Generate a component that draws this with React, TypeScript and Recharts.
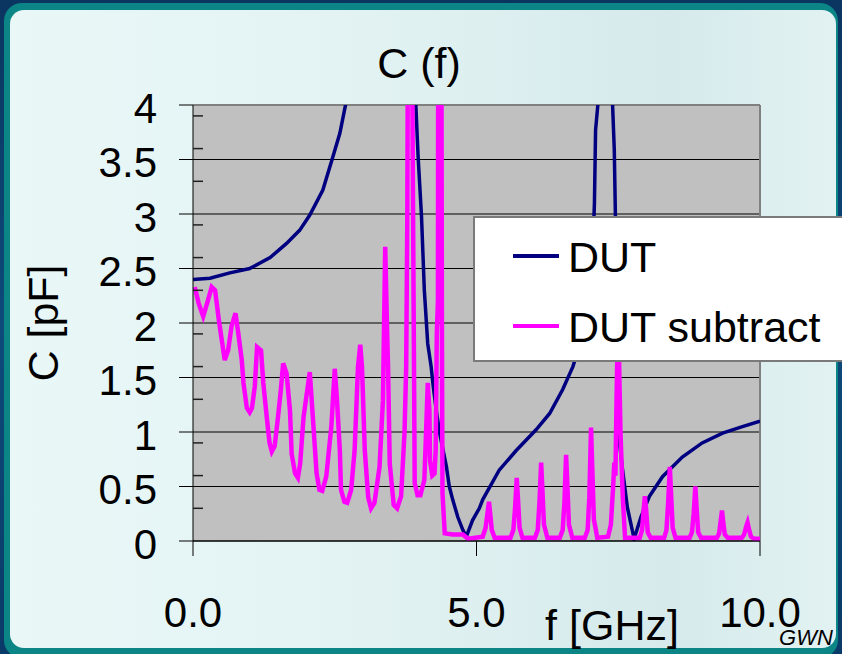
import { LineChart, Line, XAxis, YAxis, CartesianGrid, ReferenceLine, Legend } from "recharts";

const FONT = '"Liberation Sans", Arial, sans-serif';
const NAVY = "#000080";
const MAGENTA = "#FF00FF";

// DUT, f in GHz, C in pF (values above 4 run off the top of the plot)
const dutFreq = [
  0, 0.3, 0.65, 1.0, 1.36, 1.65, 1.88, 2.06, 2.29, 2.47, 2.59, 2.69, 2.8, 3.0, 3.4, 3.7, 3.85, 3.93,
  3.97, 4.03, 4.08, 4.14, 4.2, 4.23, 4.29, 4.35, 4.47, 4.52, 4.58, 4.67, 4.76, 4.82, 4.93, 5.05, 5.11,
  5.4, 5.7, 6.05, 6.29, 6.52, 6.7, 6.85, 6.95, 7.02, 7.06, 7.08, 7.1, 7.14, 7.2, 7.3, 7.38, 7.4, 7.43,
  7.45, 7.47, 7.49, 7.57, 7.66, 7.78, 7.9, 8.05, 8.28, 8.63, 8.98, 9.34, 9.69, 10.0,
];
const dutCap = [
  2.4, 2.41, 2.46, 2.5, 2.6, 2.73, 2.85, 2.99, 3.22, 3.53, 3.74, 4.0, 4.8, 6.5, 12, 9, 6, 4.0,
  3.53, 2.98, 2.3, 1.81, 1.6, 1.45, 1.2, 0.99, 0.68, 0.5, 0.38, 0.22, 0.1, 0.04, 0.19, 0.3, 0.38,
  0.65, 0.83, 1.02, 1.17, 1.39, 1.6, 1.85, 2.1, 2.45, 2.8, 3.1, 3.77, 4.0, 6, 8, 5, 4.0, 3.59,
  2.98, 2.0, 1.05, 0.68, 0.31, 0.02, 0.22, 0.41, 0.59, 0.77, 0.9, 0.99, 1.05, 1.1,
];

// DUT subtract
const subFreq = [
  0.03, 0.1, 0.18, 0.26, 0.33, 0.39, 0.45, 0.5, 0.56, 0.62, 0.68, 0.75, 0.8, 0.86, 0.89, 0.95, 1.0,
  1.04, 1.09, 1.13, 1.2, 1.24, 1.3, 1.35, 1.39, 1.44, 1.5, 1.55, 1.59, 1.65, 1.71, 1.74, 1.8, 1.85,
  1.89, 1.95, 2.06, 2.09, 2.14, 2.18, 2.23, 2.28, 2.35, 2.44, 2.5, 2.54, 2.59, 2.61, 2.67, 2.72, 2.79,
  2.85, 2.91, 2.95, 2.98, 3.03, 3.09, 3.14, 3.2, 3.29, 3.35, 3.39, 3.42, 3.44, 3.47, 3.54, 3.6, 3.67,
  3.73, 3.76, 3.78, 3.81, 3.85, 3.87, 3.91, 3.96, 4.01, 4.08, 4.11, 4.14, 4.17, 4.18, 4.22, 4.26, 4.28,
  4.3, 4.32, 4.33, 4.37, 4.39, 4.4, 4.44, 4.58, 4.76, 4.85,
  5.11, 5.16, 5.2, 5.22, 5.24, 5.27, 5.32,
  5.6, 5.65, 5.68, 5.71, 5.73, 5.76, 5.81,
  6.03, 6.08, 6.11, 6.14, 6.16, 6.19, 6.25,
  6.47, 6.52, 6.55, 6.58, 6.6, 6.63, 6.69,
  6.91, 6.96, 6.99, 7.02, 7.04, 7.07, 7.13,
  7.32, 7.37, 7.41, 7.43, 7.45, 7.47, 7.5, 7.52, 7.54, 7.58, 7.62,
  7.88, 7.92, 7.95, 7.97, 7.99, 8.02, 8.07,
  8.31, 8.35, 8.38, 8.41, 8.43, 8.46, 8.51,
  8.76, 8.8, 8.83, 8.86, 8.88, 8.91, 8.96,
  9.24, 9.28, 9.31, 9.33, 9.35, 9.38, 9.43,
  9.68, 9.72, 9.76, 9.78, 9.8, 9.84, 9.9, 10.0,
];
const subCap = [
  2.33, 2.18, 2.06, 2.2, 2.33, 2.3, 2.05, 1.87, 1.66, 1.75, 1.97, 2.09, 1.9, 1.66, 1.45, 1.22, 1.18,
  1.22, 1.42, 1.78, 1.75, 1.45, 1.14, 0.9, 0.82, 0.87, 1.14, 1.39, 1.63, 1.54, 1.2, 0.8, 0.62, 0.58,
  0.71, 1.14, 1.55, 1.32, 0.93, 0.62, 0.47, 0.46, 0.59, 1.05, 1.58, 1.29, 0.83, 0.47, 0.36, 0.35, 0.47,
  0.83, 1.6, 1.8, 1.6, 0.83, 0.4, 0.3, 0.35, 0.68, 1.29, 2.7, 2.0, 1.6, 0.71, 0.33, 0.3, 0.41,
  0.99, 1.6, 3.0, 8, 8, 4.0, 0.53, 0.42, 0.42, 0.56, 0.99, 1.45, 1.2, 0.74, 0.6, 0.62, 0.83,
  1.9, 2.21, 8, 8, 2.0, 0.44, 0.07, 0.06, 0.06, 0.02,
  0.04, 0.12, 0.28, 0.36, 0.26, 0.1, 0.03,
  0.03, 0.1, 0.3, 0.58, 0.4, 0.12, 0.03,
  0.03, 0.1, 0.35, 0.72, 0.5, 0.15, 0.03,
  0.03, 0.1, 0.35, 0.79, 0.55, 0.15, 0.03,
  0.03, 0.1, 0.4, 1.04, 0.7, 0.2, 0.03,
  0.04, 0.15, 0.5, 0.72, 0.6, 1.3, 2.2, 1.5, 0.99, 0.4, 0.03,
  0.03, 0.1, 0.3, 0.41, 0.3, 0.08, 0.03,
  0.03, 0.1, 0.35, 0.68, 0.45, 0.12, 0.03,
  0.03, 0.08, 0.25, 0.5, 0.32, 0.08, 0.03,
  0.03, 0.07, 0.2, 0.28, 0.18, 0.06, 0.03,
  0.03, 0.06, 0.14, 0.17, 0.12, 0.04, 0.02, 0.02,
];

const yTicks = [0, 0.5, 1, 1.5, 2, 2.5, 3, 3.5, 4];
const yMinorTicks = [
  0.1, 0.2, 0.3, 0.4, 0.6, 0.7, 0.8, 0.9, 1.1, 1.2, 1.3, 1.4, 1.6, 1.7, 1.8, 1.9, 2.1, 2.2, 2.3, 2.4,
  2.6, 2.7, 2.8, 2.9, 3.1, 3.2, 3.3, 3.4, 3.6, 3.7, 3.8, 3.9,
];
const xTicks = [0, 5, 10];
const xTickLabels = ["0.0", "5.0", "10.0"];

const dutData = dutFreq.map((f, i) => ({ f, c: dutCap[i] }));
const subData = subFreq.map((f, i) => ({ f, c: subCap[i] }));

function XTick({ x, y, index }: any) {
  return (
    <text x={x} y={y} dy={71} textAnchor="middle" fontSize={42} fontFamily={FONT} fill="#000">
      {xTickLabels[index]}
    </text>
  );
}

function XLabel() {
  return (
    <g fontFamily={FONT} fill="#000">
      <text x={612} y={640} textAnchor="middle" fontSize={43}>f [GHz]</text>
      <text x={806} y={645} textAnchor="middle" fontSize={22} fontStyle="italic">GWN</text>
    </g>
  );
}

function YLabel() {
  return (
    <text x={58} y={323} transform="rotate(-90, 58, 323)" textAnchor="middle"
      fontSize={43} fontFamily={FONT} fill="#000">
      C [pF]
    </text>
  );
}

function LegendBox({ payload }: any) {
  return (
    <div style={{
      width: 369, height: 146, boxSizing: "border-box", background: "#fff",
      borderTop: "2px solid #7a7a7a", borderBottom: "2px solid #7a7a7a", borderLeft: "2px solid #7a7a7a",
      position: "relative", fontFamily: FONT,
    }}>
      {(payload || []).map((p: any, i: number) => (
        <div key={p.value}>
          <div style={{ position: "absolute", left: 38, top: 36 + i * 70, width: 46, height: 4, background: p.color }} />
          <div style={{ position: "absolute", left: 93, top: 15 + i * 70, fontSize: 43, lineHeight: "48px", color: "#000", whiteSpace: "nowrap" }}>
            {p.value}
          </div>
        </div>
      ))}
    </div>
  );
}

export default function App() {
  return (
    <div style={{ position: "relative", width: 842, height: 654, overflow: "hidden",
      background: "linear-gradient(180deg, #0a3560 0%, #0d4a7a 50%, #0a3a68 100%)" }}>
      <style>{"body{margin:0}"}</style>
      <div style={{ position: "absolute", left: 4, top: 3, width: 834, height: 655, borderRadius: 18, background: "#0b8585" }} />
      <div style={{ position: "absolute", left: 10, top: 10, width: 826, height: 638, borderRadius: 14,
        background: "linear-gradient(90deg, #e9f7f7 0%, #e3f3f3 40%, #d6eaeb 80%, #e2f2f2 100%)" }} />
      <svg width={842} height={100} style={{ position: "absolute", left: 0, top: 0 }}>
        <text x={419} y={78} textAnchor="middle" fontSize={43} fontFamily={FONT} fill="#000">C (f)</text>
      </svg>
      <div style={{ position: "absolute", left: 0, top: 0 }}>
        <LineChart width={842} height={654} margin={{ top: 105, right: 82, bottom: 0, left: 0 }}>
          <CartesianGrid vertical={false} stroke="#000" fill="#C0C0C0" fillOpacity={1} />
          <XAxis dataKey="f" type="number" domain={[0, 10]} ticks={xTicks} allowDataOverflow
            height={113} tickSize={15} tickMargin={0} stroke="#000" tick={<XTick />}
            label={{ content: <XLabel /> }} />
          <YAxis type="number" domain={[0, 4]} ticks={yTicks} allowDataOverflow width={193}
            tickSize={14} tickMargin={22} stroke="#000"
            tick={{ fontSize: 42, fontFamily: FONT, fill: "#000", dy: 3 }}
            label={{ content: <YLabel /> }} />
          <YAxis yAxisId="minor" type="number" domain={[0, 4]} ticks={yMinorTicks} allowDataOverflow
            mirror orientation="left" tickSize={10} axisLine={false} stroke="#000"
            tickLine={{ stroke: "#202020", strokeWidth: 1.5 }} tick={() => <g />} />
          <ReferenceLine y={4} stroke="#808080" strokeWidth={2} />
          <ReferenceLine x={10} stroke="#808080" strokeWidth={2} />
          <Line data={dutData} dataKey="c" name="DUT" type="linear" stroke={NAVY} strokeWidth={3.5}
            dot={false} isAnimationActive={false} />
          <Line data={subData} dataKey="c" name="DUT subtract" type="linear" stroke={MAGENTA} strokeWidth={4.5}
            dot={false} isAnimationActive={false} />
          <Legend layout="horizontal" verticalAlign="middle" align="center" content={<LegendBox />}
            wrapperStyle={{ left: 473, top: 216, width: 369, height: 146 }} />
        </LineChart>
      </div>
    </div>
  );
}
